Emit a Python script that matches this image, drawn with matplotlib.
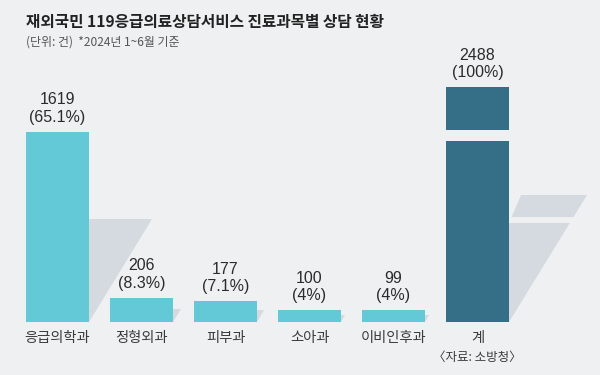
import numpy as np
import matplotlib.pyplot as plt
from matplotlib.patches import Polygon, Rectangle

# 데이터
categories = ['응급의학과', '정형외과', '피부과', '소아과', '이비인후과', '계']
counts = [1619, 206, 177, 100, 99, 2488]
shares = ['65.1%', '8.3%', '7.1%', '4%', '4%', '100%']

BG = '#eff0f1'
CYAN = '#64c9d6'
TEAL = '#346f87'
SHADOW = '#d4dadf'
TEXT = '#2b2b2b'

CAP = 2000          # 계 막대는 물결(생략) 처리해서 이 높이로 표시
BAR_W = 0.75
SH_FRAC = 0.54      # 그림자 높이 비율
SH_SLOPE = 0.000466 / 0.54  # 높이당 가로 길이 (카테고리 단위)

KR = ['Noto Sans CJK KR', 'DejaVu Sans']
plt.rcParams['font.family'] = ['Liberation Sans', 'Noto Sans CJK KR', 'DejaVu Sans']


def main():
    fig = plt.figure(figsize=(6, 3.75), dpi=100)
    fig.patch.set_facecolor(BG)
    ax = fig.add_axes([15.5 / 600, 53.3 / 375, 504 / 600, 293.3 / 375])
    ax.set_facecolor(BG)
    ax.set_xlim(-0.5, 5.5)
    ax.set_ylim(0, 2500)
    ax.axis('off')

    x = np.arange(len(categories))
    shown = np.minimum(counts, CAP)
    colors = [CYAN] * 5 + [TEAL]

    # 그림자
    for xi, h in zip(x, shown):
        r = xi + BAR_W / 2
        top = h * SH_FRAC
        w = top * SH_SLOPE
        ax.add_patch(Polygon([(r, 0), (r, top), (r + w, top)],
                             closed=True, fc=SHADOW, ec='none', zorder=1, clip_on=False))

    ax.bar(x, shown, width=BAR_W, color=colors, zorder=2)

    # 계 막대 생략 표시
    tx = x[-1]
    ax.add_patch(Rectangle((tx - BAR_W / 2 - 0.02, 1540), BAR_W + 0.04, 95,
                           fc=BG, ec='none', zorder=3, clip_on=False))
    r = tx + BAR_W / 2
    ax.add_patch(Polygon([(r - 0.01, 841), (r + 0.9, 841), (r + 0.9, 892), (r + 0.03, 892),
                          (r + 0.15, 1090), (r - 0.01, 1090)],
                         closed=True, fc=BG, ec='none', zorder=1.5, clip_on=False))

    # 값 라벨
    for xi, h, c, s in zip(x, shown, counts, shares):
        ax.annotate(f'{c}\n({s})', (xi, h), xytext=(0, 5), textcoords='offset points',
                    ha='center', va='bottom', fontsize=11.5, color=TEXT, linespacing=1.2)

    # 카테고리 라벨
    for xi, name in zip(x, categories):
        ax.annotate(name, (xi, 0), xytext=(0, -12), textcoords='offset points',
                    ha='center', va='center', fontsize=10.3, color='#3a3a3a', family=KR)
    ax.annotate('〈자료: 소방청〉', (x[-1], 0), xytext=(0, -26), textcoords='offset points',
                ha='center', va='center', fontsize=9, color='#3a3a3a', family=KR)

    fig.text(26 / 600, 1 - 22 / 375, '재외국민 119응급의료상담서비스 진료과목별 상담 현황',
             fontsize=11.3, fontweight='bold', color='#222222', va='center', family=KR)
    fig.text(26 / 600, 1 - 42 / 375, '(단위: 건)  *2024년 1~6월 기준',
             fontsize=8.6, color='#555555', va='center', family=KR)

    fig.savefig('out.png', dpi=100, facecolor=BG)


if __name__ == '__main__':
    main()
